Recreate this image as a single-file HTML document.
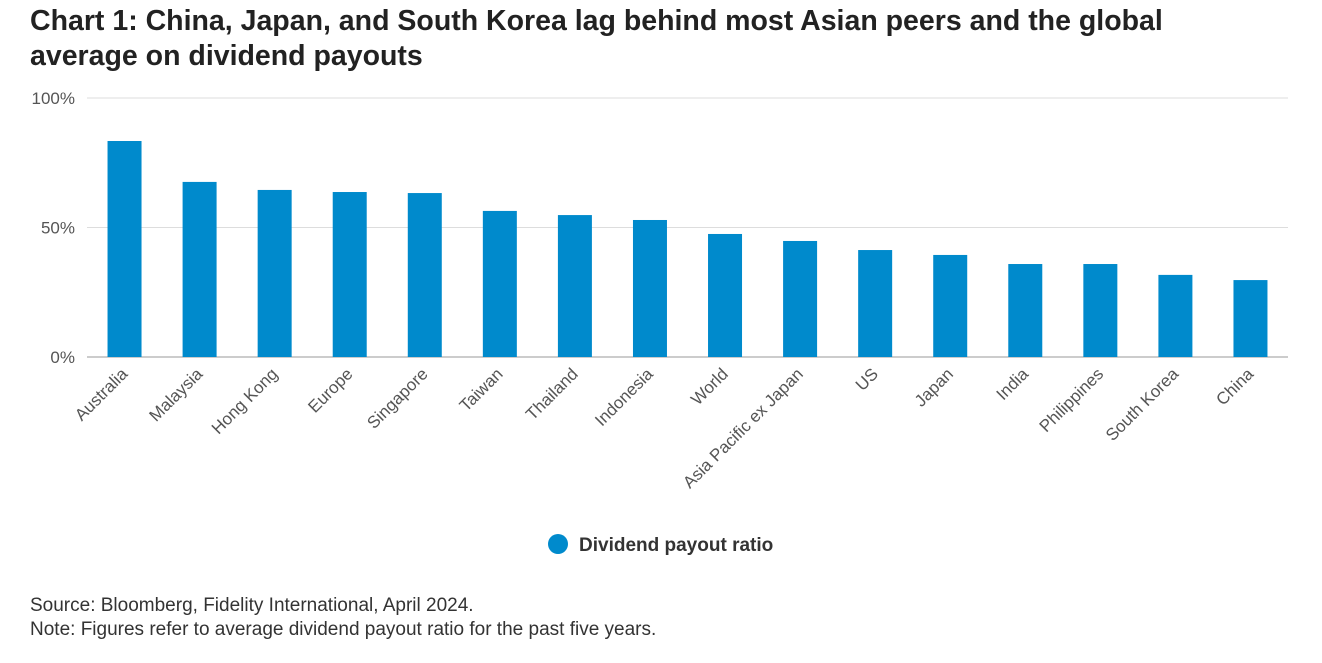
<!DOCTYPE html>
<html><head><meta charset="utf-8"><style>
body{margin:0;background:#fff;width:1322px;height:663px;overflow:hidden;font-family:"Liberation Sans",Arial,sans-serif}
.t{position:absolute;left:30px;top:4px;font-size:28.5px;font-weight:bold;color:#222;line-height:35px}
.n{position:absolute;left:30px;font-size:19px;color:#333;line-height:24px}
</style></head><body>
<div class="t">Chart 1: China, Japan, and South Korea lag behind most Asian peers and the global<br>average on dividend payouts</div>
<svg id="c" width="1322" height="663" style="position:absolute;left:0;top:0"></svg>
<div class="n" style="top:594px">Source: Bloomberg, Fidelity International, April 2024.</div>
<div class="n" style="top:618px">Note: Figures refer to average dividend payout ratio for the past five years.</div>
<script>
const categories=["Australia","Malaysia","Hong Kong","Europe","Singapore","Taiwan","Thailand","Indonesia","World","Asia Pacific ex Japan","US","Japan","India","Philippines","South Korea","China"];
const values=[83.4,67.6,64.5,63.7,63.3,56.4,54.8,52.9,47.5,44.8,41.3,39.4,35.9,35.9,31.7,29.7];
const ticks=[0,50,100];
const NS="http://www.w3.org/2000/svg";
const svg=document.getElementById('c');
const L=87,R=1288,T=98,B=357;
const y=v=>B-(v/100)*(B-T);
const band=(R-L)/categories.length;
const x=i=>L+band*i+band/2;
function mk(t,a){const e=document.createElementNS(NS,t);for(const k in a)e.setAttribute(k,a[k]);svg.appendChild(e);return e;}
ticks.forEach(tv=>{
 const g=mk('line',{x1:L,x2:R,y1:y(tv),y2:y(tv),stroke:tv===0?'#999':'#ddd','stroke-width':1});
 
 
 const tx=mk('text',{x:75,y:y(tv)+6,'text-anchor':'end','font-size':17,fill:'#555'});
 tx.textContent=tv+'%';
 
 
});
categories.forEach((c,i)=>{
 const r=mk('rect',{x:x(i)-17,y:y(values[i]),width:34,height:B-y(values[i]),fill:'#008acc'});
 
 
 const t=mk('text',{x:x(i)+4,y:375,'text-anchor':'end','font-size':17,fill:'#555',transform:`rotate(-45 ${x(i)+4} 375)`});
 t.textContent=c;
 
 
});
const lc=mk('circle',{cx:558,cy:544,r:10,fill:'#008acc'});


const lt=mk('text',{x:579,y:551,'font-size':19,'font-weight':'bold',fill:'#333'});
lt.textContent='Dividend payout ratio';


</script>
</body></html>
